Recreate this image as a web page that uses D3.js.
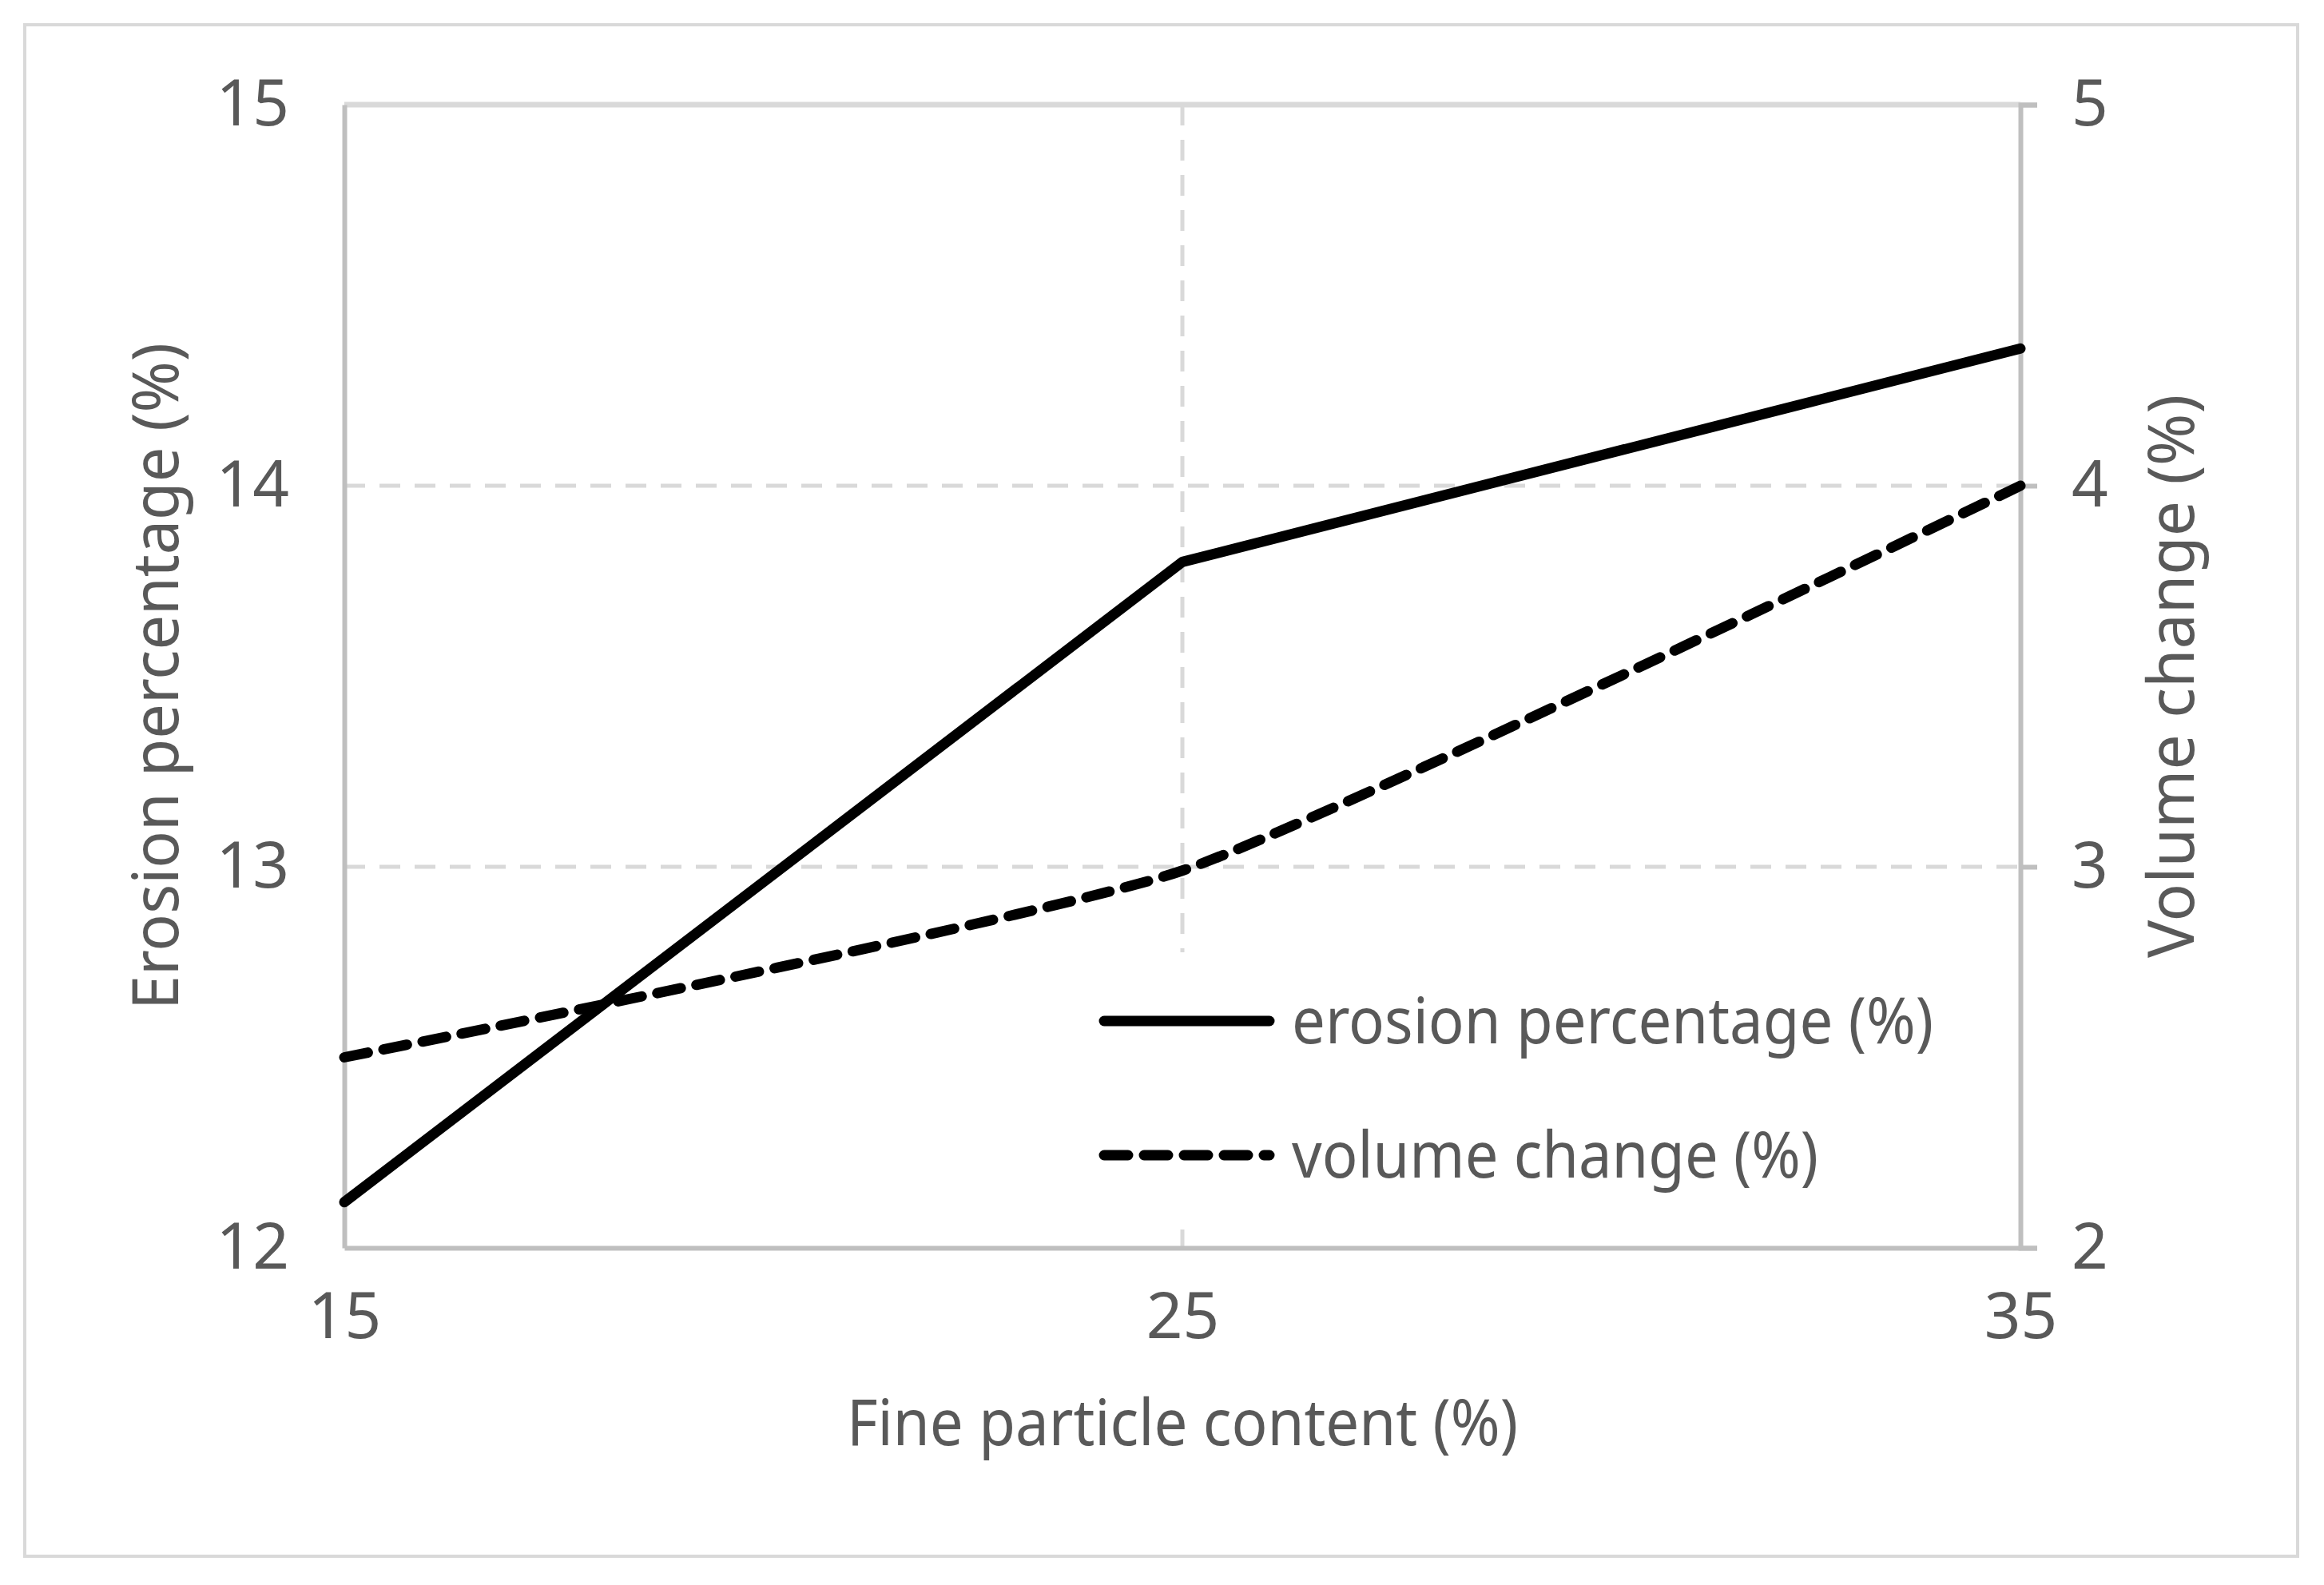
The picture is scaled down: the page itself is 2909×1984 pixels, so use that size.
<!DOCTYPE html>
<html>
<head>
<meta charset="utf-8">
<script src="https://d3js.org/d3.v7.min.js"></script>
<style>
  body { margin: 0; background: #fff; }
  text { font-family: "Noto Sans", "DejaVu Sans", sans-serif; fill: #595959; }
  .axis path.domain { stroke: #bfbfbf; stroke-width: 6; fill: none; }
  .axis .tick line { stroke: #bfbfbf; stroke-width: 6; }
  .axis text { font-size: 80px; fill: #595959; font-family: "Noto Sans", "DejaVu Sans", sans-serif; }
  .grid line { stroke: #d9d9d9; stroke-width: 5; stroke-dasharray: 26 18; }
</style>
</head>
<body>
<svg id="chart" width="2909" height="1984"></svg>
<script>
  // fine particle content (%) vs erosion / volume change
  var fineContent = [15, 25, 35];
  var erosionPct = [12.12, 13.8, 14.36];
  var volumeChange = [2.5, 2.99, 4.0];
  var xTicks = [15, 25, 35];
  var leftTicks = [12, 13, 14, 15];
  var rightTicks = [2, 3, 4, 5];
  var seriesNames = ['erosion percentage (%)', 'volume change (%)'];

  var plotLeft = 431, plotRight = 2529, plotTop = 131, plotBottom = 1562;

  var svg = d3.select('#chart');

  // outer frame
  svg.append('rect')
    .attr('x', 31).attr('y', 31)
    .attr('width', 2845).attr('height', 1917)
    .attr('fill', '#fff')
    .attr('stroke', '#d9d9d9')
    .attr('stroke-width', 4);

  var x = d3.scaleLinear().domain([15, 35]).range([plotLeft, plotRight]);
  var yL = d3.scaleLinear().domain([12, 15]).range([plotBottom, plotTop]);
  var yR = d3.scaleLinear().domain([2, 5]).range([plotBottom, plotTop]);

  // gridlines
  var grid = svg.append('g').attr('class', 'grid');
  grid.selectAll('line.h')
      .data(leftTicks.filter(function(d) { return d > 12 && d < 15; }))
    .enter().append('line')
      .attr('class', 'h')
      .attr('x1', plotLeft).attr('x2', plotRight)
      .attr('y1', function(d) { return yL(d); })
      .attr('y2', function(d) { return yL(d); });
  grid.selectAll('line.v')
      .data(xTicks.filter(function(d) { return d > 15 && d < 35; }))
    .enter().append('line')
      .attr('class', 'v')
      .attr('y1', plotTop).attr('y2', plotBottom)
      .attr('x1', function(d) { return x(d); })
      .attr('x2', function(d) { return x(d); });

  // top border of plot (max gridline)
  svg.append('line')
    .attr('x1', plotLeft).attr('x2', plotRight)
    .attr('y1', yL(15)).attr('y2', yL(15))
    .attr('stroke', '#d9d9d9').attr('stroke-width', 7);

  // axes
  svg.append('g')
    .attr('class', 'axis')
    .attr('transform', 'translate(0,' + plotBottom + ')')
    .call(d3.axisBottom(x).tickValues(xTicks).tickSize(0).tickPadding(56).tickFormat(d3.format('d')));

  svg.append('g')
    .attr('class', 'axis')
    .attr('transform', 'translate(' + plotLeft + ',0)')
    .call(d3.axisLeft(yL).tickValues(leftTicks).tickSize(0).tickPadding(69).tickFormat(d3.format('d')));

  svg.append('g')
    .attr('class', 'axis')
    .attr('transform', 'translate(' + plotRight + ',0)')
    .call(d3.axisRight(yR).tickValues(rightTicks).tickSize(21).tickPadding(43).tickFormat(d3.format('d')));

  svg.selectAll('.axis text').attr('fill', '#595959');

  // series
  var erosionData = fineContent.map(function(d, i) { return [d, erosionPct[i]]; });
  var volumeData = fineContent.map(function(d, i) { return [d, volumeChange[i]]; });

  var lineL = d3.line()
    .x(function(d) { return x(d[0]); })
    .y(function(d) { return yL(d[1]); });
  // smoothed line, short handles like Excel's smoothing
  var lineR = d3.line()
    .curve(d3.curveCardinal.tension(0.5))
    .x(function(d) { return x(d[0]); })
    .y(function(d) { return yR(d[1]); });

  svg.append('path')
    .datum(erosionData)
    .attr('d', lineL)
    .attr('fill', 'none')
    .attr('stroke', '#000')
    .attr('stroke-width', 13)
    .attr('stroke-linecap', 'round')
    .attr('stroke-linejoin', 'round');

  svg.append('path')
    .datum(volumeData)
    .attr('d', lineR)
    .attr('fill', 'none')
    .attr('stroke', '#000')
    .attr('stroke-width', 13)
    .attr('stroke-dasharray', '30 20')
    .attr('stroke-linecap', 'round');

  // legend
  var legendWidths = [803, 659];
  var legend = svg.append('g');
  legend.append('rect')
    .attr('x', 1360).attr('y', 1192)
    .attr('width', 1090).attr('height', 336)
    .attr('fill', '#fff');
  var rows = legend.selectAll('g.row')
      .data(seriesNames)
    .enter().append('g')
      .attr('class', 'row')
      .attr('transform', function(d, i) { return 'translate(1376,' + (1278 + i * 168) + ')'; });
  rows.append('line')
    .attr('x1', 6).attr('x2', 213)
    .attr('stroke', '#000')
    .attr('stroke-width', 13)
    .attr('stroke-linecap', 'round')
    .attr('stroke-dasharray', function(d, i) { return i ? '30 20' : null; });
  rows.append('text')
    .attr('x', 241)
    .attr('dy', '0.35em')
    .attr('font-size', 80)
    .attr('textLength', function(d, i) { return legendWidths[i]; })
    .attr('lengthAdjust', 'spacingAndGlyphs')
    .text(function(d) { return d; });

  // axis titles
  svg.append('text')
    .attr('x', (plotLeft + plotRight) / 2).attr('y', 1781)
    .attr('dy', '0.35em')
    .attr('text-anchor', 'middle')
    .attr('font-size', 80)
    .attr('textLength', 840)
    .attr('lengthAdjust', 'spacingAndGlyphs')
    .text('Fine particle content (%)');

  svg.append('text')
    .attr('transform', 'translate(195,' + (plotTop + plotBottom) / 2 + ') rotate(-90)')
    .attr('dy', '0.35em')
    .attr('text-anchor', 'middle')
    .attr('font-size', 80)
    .attr('textLength', 835)
    .attr('lengthAdjust', 'spacingAndGlyphs')
    .text('Erosion percentage (%)');

  svg.append('text')
    .attr('transform', 'translate(2718,' + (plotTop + plotBottom) / 2 + ') rotate(-90)')
    .attr('dy', '0.35em')
    .attr('text-anchor', 'middle')
    .attr('font-size', 80)
    .attr('textLength', 705)
    .attr('lengthAdjust', 'spacingAndGlyphs')
    .text('Volume change (%)');
</script>
</body>
</html>
